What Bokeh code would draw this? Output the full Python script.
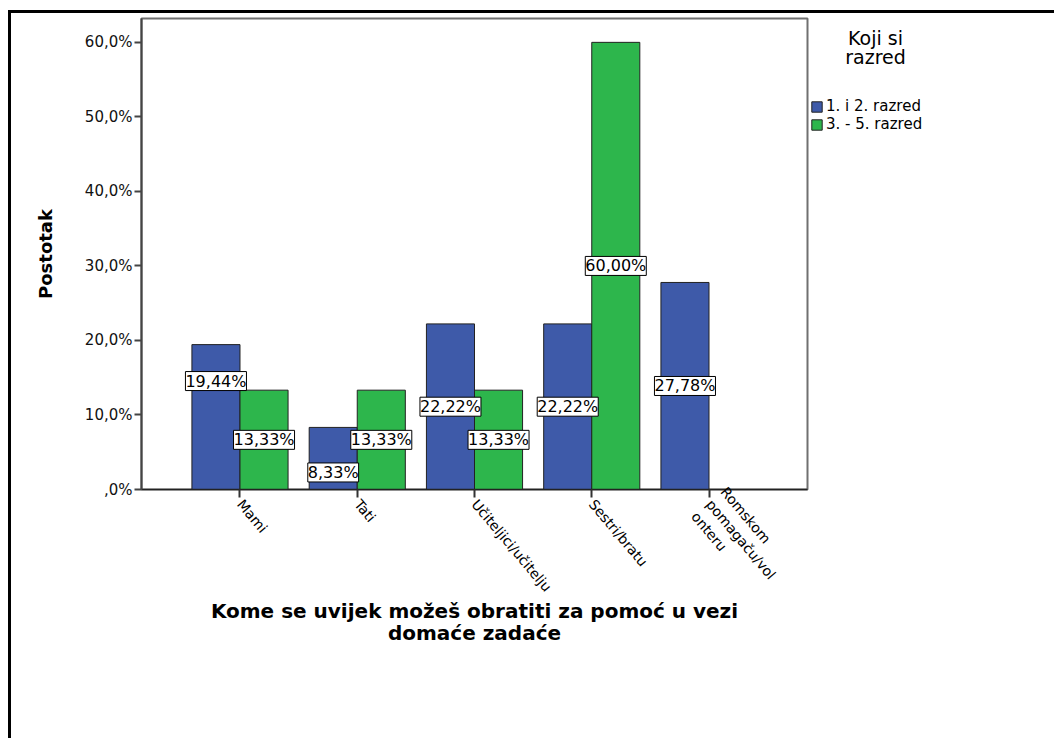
from bokeh.plotting import figure
from bokeh.layouts import row
from bokeh.models import (ColumnDataSource, FactorRange, Range1d, FixedTicker,
                          LabelSet, Label, Legend, LegendItem)
from bokeh.transform import dodge
from bokeh.core.properties import value
from bokeh.embed import file_html
from bokeh.resources import INLINE

# ---------------- data ----------------
categories = ["Mami", "Tati", "Učiteljici/učitelju", "Sestri/bratu",
              "Romskom\npomagaču/vol\nonteru"]
series_names = ["1. i 2. razred", "3. - 5. razred"]
blue_vals = [19.44, 8.33, 22.22, 22.22, 27.78]
green_vals = [13.33, 13.33, 13.33, 60.00, 0.0]
y_ticks = [0, 10, 20, 30, 40, 50, 60]
y_tick_labels = [",0%", "10,0%", "20,0%", "30,0%", "40,0%", "50,0%", "60,0%"]
legend_title = ["Koji si", "razred"]
x_title = ["Kome se uvijek možeš obratiti za pomoć u vezi", "domaće zadaće"]
y_title = "Postotak"

# layout nudges for value labels (pixels, up is positive)
blue_label_nudge = [36, -14, 0, 0, 0]
green_label_nudge = [0, 0, 0, 0, 0]

BLUE = "#3e5aa9"
GREEN = "#2db64c"
EDGE = "#222222"
FONT = "DejaVu Sans"


def pct(v):
    return ("%.2f" % v).replace(".", ",") + "%"


p = figure(width=798, height=725,
           x_range=FactorRange(factors=categories, range_padding=0.34,
                               range_padding_units="absolute"),
           y_range=Range1d(0, 63.2),
           output_backend="svg", toolbar_location=None,
           min_border_left=130, min_border_right=2,
           min_border_top=5, min_border_bottom=249)

p.xgrid.grid_line_color = None
p.ygrid.grid_line_color = None
p.outline_line_color = "#707070"
p.outline_line_width = 2
p.background_fill_color = "white"
p.border_fill_color = "white"

# y axis
p.yaxis.ticker = FixedTicker(ticks=y_ticks)
p.yaxis.major_label_overrides = {t: l for t, l in zip(y_ticks, y_tick_labels)}
p.yaxis.minor_tick_line_color = None
p.yaxis.major_tick_in = 0
p.yaxis.major_tick_out = 7
p.yaxis.major_tick_line_color = "#444444"
p.yaxis.major_tick_line_width = 2
p.yaxis.axis_line_color = "#444444"
p.yaxis.axis_line_width = 2
p.yaxis.major_label_text_font = FONT
p.yaxis.major_label_text_font_size = "15px"
p.yaxis.major_label_text_color = "#111111"
p.yaxis.major_label_standoff = 2
p.yaxis.axis_label = y_title
p.yaxis.axis_label_text_font = FONT
p.yaxis.axis_label_text_font_size = "18px"
p.yaxis.axis_label_text_font_style = "bold"
p.yaxis.axis_label_text_color = "black"
p.yaxis.axis_label_standoff = 26

# x axis: rotated category labels + two-line title
p.xaxis.major_label_orientation = -0.87
p.xaxis.major_label_standoff = 4
p.xaxis.major_label_text_font = FONT
p.xaxis.major_label_text_font_size = "14px"
p.xaxis.major_label_text_color = "black"
p.xaxis.major_tick_in = 0
p.xaxis.major_tick_out = 8
p.xaxis.major_tick_line_color = "#333333"
p.xaxis.major_tick_line_width = 2
p.xaxis.axis_line_color = EDGE
p.xaxis.axis_line_width = 1.5
p.xaxis.axis_label = "\n".join(x_title)
p.xaxis.axis_label_text_font = FONT
p.xaxis.axis_label_text_font_size = "20px"
p.xaxis.axis_label_text_font_style = "bold"
p.xaxis.axis_label_text_color = "black"
p.xaxis.axis_label_text_align = "center"
p.xaxis.axis_label_text_line_height = 0.9
p.xaxis.axis_label_standoff = -16

src = ColumnDataSource(dict(cat=categories, blue=blue_vals, green=green_vals))

rb = p.vbar(x=dodge("cat", -0.205, range=p.x_range), top="blue", width=0.41,
            source=src, fill_color=BLUE, line_color=EDGE, line_width=1)
rg = p.vbar(x=dodge("cat", 0.205, range=p.x_range), top="green", width=0.41,
            source=src, fill_color=GREEN, line_color=EDGE, line_width=1)


def label_source(vals, nudges):
    cats, half, txt, nud = [], [], [], []
    for c, v, n in zip(categories, vals, nudges):
        if v > 0:
            cats.append(c)
            half.append(v / 2.0)
            txt.append(pct(v))
            nud.append(n)
    return ColumnDataSource(dict(cat=cats, half=half, txt=txt, nudge=nud))


for vals, nudges, off in ((blue_vals, blue_label_nudge, -0.205),
                          (green_vals, green_label_nudge, 0.205)):
    ls_src = label_source(vals, nudges)
    kw = dict(x=dodge("cat", off, range=p.x_range), y="half", text="txt",
              y_offset="nudge", source=ls_src, text_align="center",
              text_baseline="middle", text_font=value(FONT),
              text_font_size="16px", text_color="black",
              background_fill_color="white", border_line_color="black",
              border_line_width=1)
    try:
        ls = LabelSet(padding=5, **kw)
    except Exception:
        ls = LabelSet(**kw)
    p.add_layout(ls)

# ---------------- legend panel (frame aligned with the main plot's frame) ----
p2 = figure(width=245, height=725, x_range=Range1d(0, 1), y_range=Range1d(0, 1),
            output_backend="svg", toolbar_location=None, min_border=0,
            x_axis_type=None, y_axis_type=None)
p2.outline_line_color = None
p2.background_fill_color = "white"
p2.border_fill_color = "white"

# hidden proxies that only supply the legend swatches
lb = p2.vbar(x=[0.5], top=[0.5], width=0.1, fill_color=BLUE, line_color=EDGE,
             visible=False)
lg = p2.vbar(x=[0.5], top=[0.5], width=0.1, fill_color=GREEN, line_color=EDGE,
             visible=False)

for i, line in enumerate(legend_title):
    p2.add_layout(Label(x=66, y=452 - 19 * i, x_units="screen", y_units="screen",
                        text=line, text_align="center", text_baseline="middle",
                        text_font=FONT, text_font_size="19px", text_color="black"))

legend = Legend(items=[LegendItem(label=series_names[0], renderers=[lb]),
                       LegendItem(label=series_names[1], renderers=[lg])],
                location=(1, 356), orientation="vertical",
                glyph_width=13, glyph_height=13, label_height=15,
                spacing=0, padding=1, margin=0, label_standoff=3,
                label_text_font=FONT, label_text_font_size="15px",
                label_text_color="black",
                border_line_color=None, background_fill_alpha=0)
p2.add_layout(legend)

layout = row(p, p2)
layout.styles = {"border-left": "3px solid black", "border-top": "3px solid black",
                 "margin-top": "10px", "margin-left": "8px"}

open("out.html", "w").write(file_html(layout, INLINE))
